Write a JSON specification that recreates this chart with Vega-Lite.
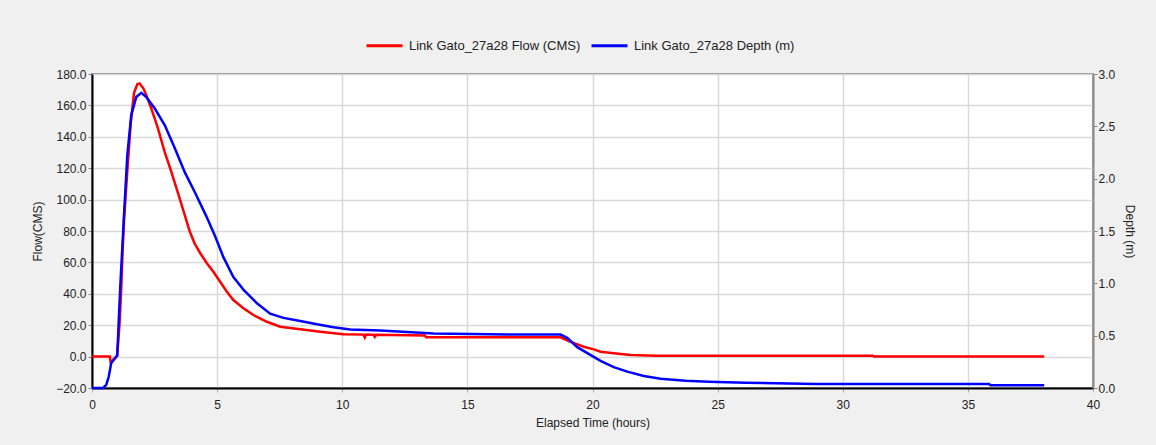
{
  "$schema": "https://vega.github.io/schema/vega-lite/v6.json",
  "autosize": "none",
  "width": 1001,
  "height": 314,
  "padding": {"left": 92, "top": 74, "right": 63, "bottom": 57},
  "background": "#f0f0f0",
  "config": {
    "font": "Liberation Sans",
    "view": {"fill": "white", "stroke": "#8c8c8c", "strokeWidth": 2},
    "axis": {"labelFont": "Liberation Sans", "titleFont": "Liberation Sans", "labelFontSize": 12, "titleFontSize": 12, "titleFontWeight": "normal", "labelColor": "#222", "titleColor": "#222", "labelFlush": false}
  },
  "datasets": {
    "flow": [
      {"t": 0, "v": 0}, {"t": 0.71, "v": 0}, {"t": 0.75, "v": -4}, {"t": 0.8, "v": -3}, {"t": 0.86, "v": -1.5},
      {"t": 1.0, "v": 0.5}, {"t": 1.05, "v": 10}, {"t": 1.11, "v": 23}, {"t": 1.17, "v": 44}, {"t": 1.22, "v": 66},
      {"t": 1.28, "v": 87}, {"t": 1.41, "v": 118}, {"t": 1.55, "v": 149}, {"t": 1.68, "v": 168}, {"t": 1.81, "v": 173.5},
      {"t": 1.9, "v": 174}, {"t": 1.97, "v": 172.5}, {"t": 2.05, "v": 171}, {"t": 2.17, "v": 166.5}, {"t": 2.37, "v": 158},
      {"t": 2.52, "v": 151}, {"t": 2.64, "v": 145}, {"t": 2.91, "v": 130}, {"t": 3.17, "v": 117.6}, {"t": 3.44, "v": 104},
      {"t": 3.71, "v": 90}, {"t": 3.9, "v": 80}, {"t": 4.1, "v": 72}, {"t": 4.32, "v": 66}, {"t": 4.59, "v": 59.5},
      {"t": 4.85, "v": 54}, {"t": 5.12, "v": 47.7}, {"t": 5.39, "v": 41.3}, {"t": 5.65, "v": 36}, {"t": 6.05, "v": 30.8},
      {"t": 6.45, "v": 26.5}, {"t": 6.99, "v": 22.2}, {"t": 7.52, "v": 19}, {"t": 8.32, "v": 17.4}, {"t": 9.12, "v": 15.9},
      {"t": 10.05, "v": 14.2}, {"t": 10.85, "v": 14.0}, {"t": 10.9, "v": 12.2}, {"t": 10.95, "v": 14.0}, {"t": 11.25, "v": 13.9},
      {"t": 11.3, "v": 12.6}, {"t": 11.35, "v": 13.9}, {"t": 13.3, "v": 13.4}, {"t": 13.35, "v": 12.4}, {"t": 18.72, "v": 12.3},
      {"t": 19.1, "v": 9.5}, {"t": 19.65, "v": 6.3}, {"t": 20.05, "v": 4.6}, {"t": 20.32, "v": 3.1}, {"t": 20.85, "v": 2.1},
      {"t": 21.52, "v": 1.0}, {"t": 22.52, "v": 0.6}, {"t": 31.2, "v": 0.6}, {"t": 31.25, "v": 0}, {"t": 38.05, "v": 0}
    ],
    "depth": [
      {"t": 0, "v": 0}, {"t": 0.44, "v": 0}, {"t": 0.57, "v": 0.03}, {"t": 0.67, "v": 0.11}, {"t": 0.77, "v": 0.24},
      {"t": 0.91, "v": 0.28}, {"t": 1.01, "v": 0.31}, {"t": 1.07, "v": 0.65}, {"t": 1.13, "v": 0.97}, {"t": 1.2, "v": 1.29},
      {"t": 1.27, "v": 1.61}, {"t": 1.41, "v": 2.22}, {"t": 1.57, "v": 2.61}, {"t": 1.77, "v": 2.78}, {"t": 1.97, "v": 2.82},
      {"t": 2.17, "v": 2.78}, {"t": 2.51, "v": 2.67}, {"t": 2.91, "v": 2.51}, {"t": 3.31, "v": 2.29}, {"t": 3.71, "v": 2.06},
      {"t": 4.11, "v": 1.87}, {"t": 4.57, "v": 1.64}, {"t": 4.92, "v": 1.45}, {"t": 5.25, "v": 1.25}, {"t": 5.65, "v": 1.06},
      {"t": 6.05, "v": 0.94}, {"t": 6.59, "v": 0.81}, {"t": 7.12, "v": 0.71}, {"t": 7.65, "v": 0.67}, {"t": 8.32, "v": 0.64},
      {"t": 8.99, "v": 0.61}, {"t": 9.65, "v": 0.58}, {"t": 10.32, "v": 0.56}, {"t": 11.52, "v": 0.55}, {"t": 13.65, "v": 0.52},
      {"t": 16.59, "v": 0.51}, {"t": 18.72, "v": 0.51}, {"t": 18.99, "v": 0.48}, {"t": 19.39, "v": 0.39}, {"t": 20.32, "v": 0.26},
      {"t": 20.85, "v": 0.2}, {"t": 21.39, "v": 0.156}, {"t": 22.05, "v": 0.115}, {"t": 22.72, "v": 0.089}, {"t": 23.72, "v": 0.07},
      {"t": 24.65, "v": 0.06}, {"t": 26.12, "v": 0.05}, {"t": 28.92, "v": 0.038}, {"t": 35.85, "v": 0.038}, {"t": 35.9, "v": 0.026},
      {"t": 38.05, "v": 0.026}
    ]
  },
  "encoding": {
    "x": {
      "field": "t", "type": "quantitative",
      "scale": {"domain": [0, 40], "nice": false},
      "axis": {"title": "Elapsed Time (hours)", "values": [0, 5, 10, 15, 20, 25, 30, 35, 40], "format": "d",
        "domainColor": "black", "domainWidth": 2, "gridColor": "#d9d9d9", "gridWidth": 1.5,
        "tickColor": "#aaa", "tickSize": 4, "labelPadding": 7, "titlePadding": 7}
    }
  },
  "layer": [
    {
      "data": {"name": "flow"},
      "mark": {"type": "line", "strokeWidth": 2.5, "interpolate": "linear"},
      "encoding": {
        "y": {
          "field": "v", "type": "quantitative",
          "scale": {"domain": [-20, 180], "nice": false, "zero": false},
          "axis": {"title": "Flow(CMS)", "values": [-20, 0, 20, 40, 60, 80, 100, 120, 140, 160, 180], "format": ".1f",
            "domainColor": "black", "domainWidth": 2, "gridColor": "#d9d9d9", "gridWidth": 1.5,
            "tickColor": "#888", "tickSize": 4, "labelPadding": 2, "titlePadding": 11}
        },
        "color": {
          "datum": "Link Gato_27a28 Flow (CMS)",
          "scale": {"domain": ["Link Gato_27a28 Flow (CMS)", "Link Gato_27a28 Depth (m)"], "range": ["#ff0000", "#0000ff"]},
          "legend": {
            "title": null, "orient": "none", "direction": "horizontal", "legendX": 273, "legendY": -48,
            "symbolType": "stroke", "symbolSize": 1296, "symbolStrokeWidth": 3, "labelLimit": 0,
            "labelFont": "Liberation Sans", "labelFontSize": 13, "labelColor": "#222", "labelOffset": 5, "columnPadding": 4
          }
        }
      }
    },
    {
      "data": {"name": "depth"},
      "mark": {"type": "line", "strokeWidth": 2.5, "interpolate": "linear"},
      "encoding": {
        "y": {
          "field": "v", "type": "quantitative",
          "scale": {"domain": [0, 3], "nice": false, "zero": false},
          "axis": {"orient": "right", "title": "Depth (m)", "titleAngle": 90, "values": [0, 0.5, 1, 1.5, 2, 2.5, 3], "format": ".1f",
            "grid": false, "domainColor": "#8c8c8c", "domainWidth": 2,
            "tickColor": "#888", "tickSize": 4, "labelPadding": 1, "titlePadding": 8}
        },
        "color": {"datum": "Link Gato_27a28 Depth (m)"}
      }
    }
  ],
  "resolve": {"scale": {"y": "independent"}}
}
